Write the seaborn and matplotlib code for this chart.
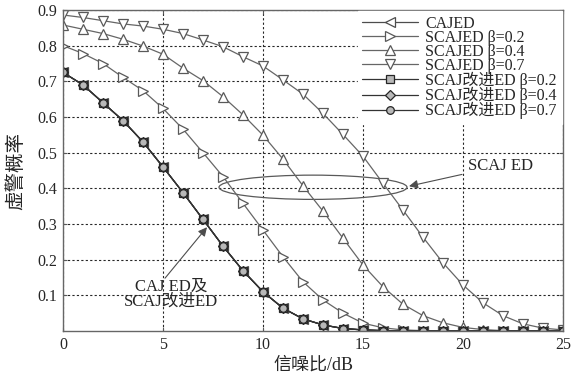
import matplotlib
matplotlib.use("Agg")
import matplotlib.pyplot as plt
from matplotlib.patches import Ellipse
import seaborn as sns

# SNR axis (dB)
snr = list(range(0, 26))

# False-alarm probability curves
cajed = [0.725, 0.69, 0.64, 0.59, 0.53, 0.46, 0.388, 0.313, 0.238, 0.169, 0.11,
         0.064, 0.034, 0.017, 0.007, 0.003, 0.001, 0.0, 0.0, 0.0, 0.0, 0.0, 0.0, 0.0, 0.0, 0.0]
scajed_02 = [0.80, 0.778, 0.75, 0.711, 0.674, 0.624, 0.566, 0.50, 0.433, 0.358, 0.283,
             0.208, 0.138, 0.087, 0.05, 0.022, 0.009, 0.003, 0.001, 0.0, 0.0, 0.0, 0.0, 0.0, 0.0, 0.0]
scajed_04 = [0.858, 0.846, 0.834, 0.818, 0.799, 0.776, 0.737, 0.702, 0.657, 0.606, 0.549,
             0.482, 0.407, 0.336, 0.26, 0.185, 0.124, 0.075, 0.043, 0.023, 0.01, 0.004, 0.001, 0.0, 0.0, 0.0]
scajed_07 = [0.886, 0.879, 0.87, 0.861, 0.855, 0.846, 0.834, 0.816, 0.797, 0.769, 0.743,
             0.704, 0.664, 0.61, 0.551, 0.49, 0.414, 0.339, 0.263, 0.191, 0.129, 0.079, 0.043, 0.02, 0.008, 0.003]
scaj_imp_02 = [0.725, 0.69, 0.64, 0.59, 0.53, 0.46, 0.388, 0.313, 0.238, 0.169, 0.11,
               0.064, 0.034, 0.017, 0.007, 0.003, 0.001, 0.0, 0.0, 0.0, 0.0, 0.0, 0.0, 0.0, 0.0, 0.0]
scaj_imp_04 = [0.725, 0.69, 0.64, 0.59, 0.53, 0.46, 0.388, 0.313, 0.238, 0.169, 0.11,
               0.064, 0.034, 0.017, 0.007, 0.003, 0.001, 0.0, 0.0, 0.0, 0.0, 0.0, 0.0, 0.0, 0.0, 0.0]
scaj_imp_07 = [0.725, 0.69, 0.64, 0.59, 0.53, 0.46, 0.388, 0.313, 0.238, 0.169, 0.11,
               0.064, 0.034, 0.017, 0.007, 0.003, 0.001, 0.0, 0.0, 0.0, 0.0, 0.0, 0.0, 0.0, 0.0, 0.0]

labels = ["CAJED", "SCAJED β=0.2", "SCAJED β=0.4", "SCAJED β=0.7",
          "SCAJ改进ED β=0.2", "SCAJ改进ED β=0.4", "SCAJ改进ED β=0.7"]
x_ticks = [0, 5, 10, 15, 20, 25]
y_ticks = [0.1, 0.2, 0.3, 0.4, 0.5, 0.6, 0.7, 0.8, 0.9]

series = [cajed, scajed_02, scajed_04, scajed_07, scaj_imp_02, scaj_imp_04, scaj_imp_07]
markers = ["<", ">", "^", "v", "s", "D", "o"]
line_colors = ["0.3", "0.4", "0.4", "0.4", "0.2", "0.2", "0.2"]
face_colors = ["white", "white", "white", "white", "0.72", "0.72", "0.72"]
edge_colors = ["0.3", "0.35", "0.35", "0.35", "0.15", "0.15", "0.15"]
marker_sizes = [7.5, 7.5, 7.5, 7.5, 5.5, 5, 5.5]

sns.set_style("ticks")
plt.rcParams["font.family"] = ["Liberation Serif", "Noto Sans CJK SC"]
plt.rcParams["axes.unicode_minus"] = False

fig = plt.figure(figsize=(5.81, 3.81), dpi=100)
ax = fig.add_axes([63 / 581, 1 - 331 / 381, 500 / 581, 321 / 381])

for vals, lab, mk, lc, fc, ec, ms in zip(series, labels, markers, line_colors,
                                          face_colors, edge_colors, marker_sizes):
    sns.lineplot(x=snr, y=vals, ax=ax, label=lab, marker=mk, color=lc,
                 markersize=ms, markerfacecolor=fc, markeredgecolor=ec,
                 markeredgewidth=0.9, linewidth=0.9)

ax.set_xlim(0, 25)
ax.set_ylim(0, 0.9)
ax.set_xticks(x_ticks)
ax.set_xticklabels([str(v) for v in x_ticks])
ax.set_yticks(y_ticks)
ax.set_yticklabels([f"{v:.1f}" for v in y_ticks])
ax.grid(True, color="0.15", linestyle=(0, (2, 2)), linewidth=0.8)
ax.tick_params(direction="in", top=True, right=True, length=3, labelsize=11.5,
               colors="0.35", labelcolor="0.15", pad=4)
for s in ax.spines.values():
    s.set_color("0.4")
    s.set_linewidth(1.0)

ax.set_xlabel("信噪比/dB", fontsize=13, color="0.15", labelpad=3)
ax.set_ylabel("虚警概率", fontsize=14, color="0.15", labelpad=9)

leg = ax.legend(loc="upper right", bbox_to_anchor=(1.0, 1.0), fontsize=11.5,
                handlelength=3.5, labelspacing=-0.13, borderaxespad=0.08,
                frameon=True, fancybox=False, edgecolor="white", framealpha=1.0,
                handletextpad=0.45, borderpad=0.3)
for t in leg.get_texts():
    t.set_color("0.15")

# ellipse grouping the SCAJ ED curves
ax.add_patch(Ellipse((12.5, 0.403), width=9.4, height=0.068, fill=False,
                     edgecolor="0.35", linewidth=0.9))
ax.annotate("SCAJ ED", xy=(17.3, 0.406), xytext=(20.25, 0.463), fontsize=12,
            color="0.15", ha="left", va="center",
            arrowprops=dict(arrowstyle="-|>", color="0.3", lw=0.8,
                            mutation_scale=13, shrinkA=2, shrinkB=0))

# arrow and caption for the overlapping CAJED / improved curves
ax.annotate("", xy=(7.2, 0.291), xytext=(5.1, 0.148),
            arrowprops=dict(arrowstyle="-|>", color="0.3", lw=0.8,
                            mutation_scale=13, shrinkA=0, shrinkB=0))
ax.text(5.4, 0.103, "CAJ ED及\nSCAJ改进ED", fontsize=12, color="0.15",
        ha="center", va="center", linespacing=0.85)

fig.savefig("out.png", dpi=100, facecolor="white")
